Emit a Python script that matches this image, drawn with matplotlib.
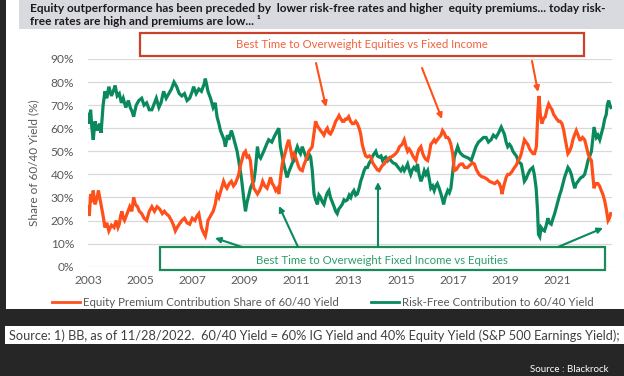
import matplotlib
matplotlib.use("Agg")
import matplotlib.pyplot as plt
from matplotlib.patches import Rectangle

# ---------------- data ----------------
rf_years = [2003.00,2003.05,2003.10,2003.15,2003.20,2003.27,2003.35,2003.45,2003.50,2003.58,2003.65,2003.72,2003.80,2003.90,
            2004.00,2004.04,2004.12,2004.20,2004.28,2004.35,2004.45,2004.55,2004.62,2004.70,2004.75,2004.85,2004.95,
            2005.06,2005.15,2005.25,2005.35,2005.45,2005.55,2005.62,2005.72,2005.80,2005.90,
            2006.00,2006.10,2006.20,2006.30,2006.40,2006.50,2006.60,2006.70,2006.80,2006.90,
            2007.00,2007.05,2007.15,2007.25,2007.35,2007.45,2007.50,2007.55,2007.60,2007.70,2007.80,2007.88,2007.95,
            2008.02,2008.08,2008.15,2008.22,2008.27,2008.35,2008.40,2008.50,2008.58,2008.65,2008.72,2008.78,2008.85,2008.90,2008.97,
            2009.04,2009.10,2009.17,2009.23,2009.30,2009.36,2009.42,2009.50,2009.55,2009.62,2009.74,2009.85,2009.93,
            2010.05,2010.13,2010.22,2010.32,2010.38,2010.45,2010.51,2010.58,2010.64,2010.70,2010.77,2010.84,2010.90,2010.97,
            2011.03,2011.10,2011.15,2011.22,2011.28,2011.35,2011.40,2011.47,2011.54,2011.60,2011.67,2011.73,2011.80,2011.86,2011.92,2011.99,
            2012.05,2012.12,2012.18,2012.24,2012.30,2012.37,2012.44,2012.50,2012.56,2012.62,2012.69,2012.75,2012.82,2012.88,2012.95,
            2013.02,2013.08,2013.14,2013.20,2013.27,2013.33,2013.40,2013.46,2013.52,2013.59,2013.65,2013.72,2013.79,2013.85,2013.92,2013.98,
            2014.04,2014.10,2014.17,2014.24,2014.30,2014.36,2014.42,2014.50,2014.56,2014.62,2014.70,2014.80,2014.90,
            2015.00,2015.07,2015.13,2015.20,2015.26,2015.32,2015.38,2015.44,2015.50,2015.57,2015.64,2015.70,2015.77,2015.84,2015.90,2015.96,
            2016.03,2016.09,2016.15,2016.22,2016.28,2016.34,2016.40,2016.47,2016.54,2016.60,2016.64,2016.70,2016.80,2016.86,2016.92,2016.98,
            2017.05,2017.12,2017.18,2017.24,2017.30,2017.40,2017.50,2017.60,2017.70,2017.79,2017.88,2017.98,
            2018.08,2018.17,2018.27,2018.36,2018.46,2018.55,2018.65,2018.75,2018.85,2018.91,2018.97,
            2019.04,2019.10,2019.17,2019.23,2019.30,2019.36,2019.43,2019.50,2019.56,2019.62,2019.68,2019.74,2019.80,2019.87,2019.96,
            2020.06,2020.12,2020.19,2020.24,2020.28,2020.33,2020.38,2020.44,2020.51,2020.58,2020.64,2020.70,2020.77,2020.84,2020.90,2020.97,
            2021.03,2021.09,2021.15,2021.22,2021.28,2021.35,2021.41,2021.47,2021.54,2021.60,2021.67,2021.73,2021.80,2021.86,2021.92,2021.98,
            2022.05,2022.12,2022.18,2022.25,2022.31,2022.36,2022.41,2022.46,2022.50,2022.56,2022.63,2022.70,2022.76,2022.82,2022.88,2022.92,2022.97,2023.02,2023.06]
rf_share = [66,62,68,60,55,63,59,62,58,70,76,73,78,74,
            77,78.5,74,75,71,73,69,72,69,67,65,70,72,
            73,70,71,68,68,71,73,69,71,76,
            73,75,77,80,78,75,74,75,72,73,
            76,78,75,77,76,79,81.5,79,76,73,69,71,65,
            62,59,57,55,52,57,55,59,56,53,50,46,41,37,30,
            24,28,31,34,36,37,42,52,48,47,50,53,55,
            54,56,58,60,52,48,44.5,41,38.7,41,43,45,46,50,
            52,50,49,52,50,48,46,49,47.5,42,31.5,29,27,31,30,28,
            27,30,32,33,30,28,26,24,23,25,26,27,29,28.5,29,
            31,30,32,33,31,31.5,34,37,39,41.6,43,43,45,46,48,49,
            50,48,47.5,48,46,47,47.5,46,47,46,45,44.5,43,
            41.6,43,41.6,43,44.5,42,40,42,43,42,44.5,40,37,39,41.6,40,
            41.6,38,34,35,33,35,36,34,31.5,29,27,30,33,32,34,40,
            47.5,50,52,50,49,48,47.5,47,46,49,52,54,
            55,56,56,54,55,57,56,58,60.5,59,57.5,
            54,52,53,52,50,49,48,46,45,44.5,41,37,38,40,42,
            43,40,34,25,14,13,17,16,15.5,18,21,19,18.4,21,23,26,
            28.5,31,33,36,38.7,41,43,42,40,37,34,36,37,38,38.7,39,
            40,43,46,48,50,55,60.5,58,56,57,55,58,60.5,64,66,70,72,70,69]

eq_years = [2003.00,2003.05,2003.10,2003.15,2003.20,2003.27,2003.35,2003.40,2003.45,2003.50,2003.58,2003.65,2003.72,2003.80,2003.90,
            2004.00,2004.08,2004.15,2004.20,2004.25,2004.30,2004.35,2004.40,2004.50,2004.60,2004.68,2004.75,2004.82,2004.90,2004.97,
            2005.06,2005.15,2005.25,2005.35,2005.45,2005.55,2005.65,2005.75,2005.85,2005.93,
            2006.00,2006.10,2006.20,2006.28,2006.35,2006.42,2006.50,2006.60,2006.70,2006.80,2006.90,
            2007.00,2007.10,2007.18,2007.25,2007.30,2007.35,2007.42,2007.50,2007.55,2007.60,2007.70,2007.80,2007.88,2007.95,
            2008.02,2008.10,2008.15,2008.20,2008.27,2008.33,2008.42,2008.50,2008.58,2008.65,2008.72,2008.78,2008.85,2008.92,2008.97,
            2009.04,2009.10,2009.17,2009.23,2009.30,2009.36,2009.42,2009.50,2009.58,2009.65,2009.70,2009.78,2009.87,2009.93,
            2010.00,2010.07,2010.13,2010.20,2010.27,2010.32,2010.38,2010.45,2010.51,2010.58,2010.64,2010.70,2010.77,2010.83,2010.90,2010.96,
            2011.03,2011.09,2011.15,2011.22,2011.28,2011.35,2011.41,2011.47,2011.54,2011.60,2011.67,2011.73,2011.80,2011.86,2011.92,2011.99,
            2012.05,2012.12,2012.18,2012.24,2012.30,2012.37,2012.44,2012.50,2012.56,2012.63,2012.70,2012.76,2012.82,2012.88,2012.94,
            2013.00,2013.07,2013.14,2013.20,2013.27,2013.33,2013.40,2013.46,2013.52,2013.59,2013.65,2013.72,2013.79,2013.85,2013.92,2013.98,
            2014.04,2014.10,2014.17,2014.24,2014.30,2014.36,2014.45,2014.54,2014.62,2014.70,2014.80,2014.87,2014.95,
            2015.05,2015.13,2015.20,2015.26,2015.32,2015.38,2015.46,2015.52,2015.58,2015.64,2015.70,2015.77,2015.84,2015.90,2015.96,
            2016.03,2016.09,2016.15,2016.22,2016.28,2016.34,2016.40,2016.47,2016.54,2016.60,2016.66,2016.73,2016.80,2016.86,2016.92,2016.99,
            2017.05,2017.12,2017.18,2017.24,2017.30,2017.37,2017.45,2017.56,2017.65,2017.75,2017.82,2017.90,
            2018.00,2018.10,2018.20,2018.30,2018.40,2018.50,2018.60,2018.70,2018.78,2018.84,2018.88,2018.95,
            2019.04,2019.10,2019.17,2019.25,2019.36,2019.43,2019.50,2019.56,2019.62,2019.68,2019.74,2019.80,2019.87,2019.94,
            2020.00,2020.07,2020.13,2020.20,2020.26,2020.30,2020.35,2020.41,2020.47,2020.54,2020.60,2020.67,2020.74,2020.80,2020.86,2020.92,2020.98,
            2021.05,2021.11,2021.18,2021.25,2021.31,2021.36,2021.41,2021.47,2021.54,2021.60,2021.66,2021.73,2021.80,2021.86,2021.90,2021.97,
            2022.05,2022.12,2022.18,2022.25,2022.31,2022.36,2022.41,2022.48,2022.56,2022.62,2022.69,2022.76,2022.82,2022.88,2022.95,2023.00,2023.05]
eq_share = [26,22,31.5,28,33,27,30,33,30,27,22,17,19,15.5,18,
            17,20,17,18.4,22,24,21,20,23,26,24,30,27,26,24,
            23,21,20,24,26,24,26,25,23,24,
            23,22,20,18,15.5,17,18.4,20,21,19,18.4,
            21,20,22,23,20,17,15,13.3,16,20,22,24,27,31.5,
            30,33,35,37,35,34,36,37,35,36,38,40,44,47,49,
            50,47.5,48,46,38,34,33,31.5,33,35,37,35,34,36,
            38.7,36,35,33,34,31.5,38,44.5,47,50,53,55,51,47.5,49,47.5,
            45,43,42,41.6,44,46,48,50,51,52,58,63,61,60,59,58,
            57,59,60,58,57.5,59,61,63,64,65.5,64,63,63,64,64,
            65,63,62,62,63,62,60,57.5,53,50,48,47.5,48,47.5,45,44,
            43,42,41.6,43,44,44.5,46,47,47.5,48,49,50,52,
            53,55,52,50,51,50,48,47,46,49,51,52,49,47.5,46.5,
            46,49,53,54,55,54,55,56,57,59,58,56,56,55,53,49,
            41.6,42,43,44,44.5,44.5,43,43,44,45,44.5,42,
            40,39,38.7,38,37,36.5,36,37,36,34,31.5,35,
            38.7,40,40,41,43,44,46,47,49,52,55,54,53,51,
            50,49,49,52,68,74,66,62,64,65,68,70.5,69,68,66,65,64,
            63,63,62,59,55,52,49,50,52,55,57,59,57,55,55,56,
            55,52,49,47,46,40,34,36,36,35,33,31,28.5,25,20,21,23]

y_ticks = [0, 10, 20, 30, 40, 50, 60, 70, 80, 90]
x_ticks = [2003, 2005, 2007, 2009, 2011, 2013, 2015, 2017, 2019, 2021]

eq_label = "Equity Premium Contribution Share of 60/40 Yield"
rf_label = "Risk-Free Contribution to 60/40 Yield"
title_lines = ["Equity outperformance has been preceded by  lower risk-free rates and higher  equity premiums... today risk-",
               "free rates are high and premiums are low... \u00b9"]
box_eq_text = "Best Time to Overweight Equities vs Fixed Income"
box_fi_text = "Best Time to Overweight Fixed Income vs Equities"
source_text = "Source: 1) BB, as of 11/28/2022.  60/40 Yield = 60% IG Yield and 40% Equity Yield (S&P 500 Earnings Yield);"
credit_text = "Source : Blackrock"

# ---------------- style ----------------
ORANGE = "#FF4F1A"
GREEN = "#0A8A5C"
GRAY_TXT = "#595959"
W, H = 624, 376
FONT = ["Lato", "DejaVu Sans"]
plt.rcParams["font.family"] = FONT

fig = plt.figure(figsize=(W / 100, H / 100), dpi=100)
fig.patch.set_facecolor("#262626")

def fx(x):
    return x / W

def fy(y):
    return 1 - y / H

def rect(x0, y0, x1, y1, **kw):
    r = Rectangle((fx(x0), fy(y1)), fx(x1) - fx(x0), fy(y0) - fy(y1),
                  transform=fig.transFigure, **kw)
    fig.patches.append(r)
    return r

# white panel, title band, source box
rect(6, 0, 624, 309, facecolor="white", edgecolor="none", zorder=-2)
rect(19, 0, 624, 29, facecolor="#D9D9E0", edgecolor="none", zorder=-1)
rect(5, 326, 624, 344, facecolor="white", edgecolor="none", zorder=-2)

fig.text(fx(30), fy(8), title_lines[0], fontsize=8.6, fontweight="bold", color="#1a1a1a",
         va="center", ha="left")
fig.text(fx(30), fy(21), title_lines[1], fontsize=8.6, fontweight="bold", color="#1a1a1a",
         va="center", ha="left")

# ---------------- axes ----------------
ax = fig.add_axes([fx(88), fy(266.7), fx(612) - fx(88), fy(59) - fy(266.7)])
ax.set_zorder(1)
ax.set_facecolor("none")
ax.plot(eq_years, eq_share, color=ORANGE, lw=2.3, label=eq_label, zorder=3, solid_joinstyle="miter")
ax.plot(rf_years, rf_share, color=GREEN, lw=2.3, label=rf_label, zorder=2, solid_joinstyle="miter")
ax.set_xlim(2003, 2023.1)
ax.set_ylim(0, 90)
ax.set_yticks(y_ticks)
ax.set_yticklabels([f"{v}%" for v in y_ticks])
ax.set_xticks(x_ticks)
ax.set_xticklabels([str(v) for v in x_ticks])
ax.grid(axis="y", color="#D9D9D9", lw=0.9)
ax.set_axisbelow(True)
for s in ax.spines.values():
    s.set_visible(False)
ax.tick_params(axis="both", length=0, labelsize=8.6, labelcolor=GRAY_TXT)
ax.tick_params(axis="x", pad=6)
ax.tick_params(axis="y", pad=10)
ax.set_ylabel("Share of 60/40 Yield (%)", fontsize=8.5, color=GRAY_TXT, labelpad=8)

leg = ax.legend(loc="center left", bbox_to_anchor=(fx(52), fy(303)), bbox_transform=fig.transFigure,
                ncol=2, frameon=False, fontsize=8.3, handlelength=2.43, columnspacing=2.8,
                handletextpad=0.26, borderpad=0, borderaxespad=0, labelcolor=GRAY_TXT)
for h in leg.legend_handles:
    h.set_linewidth(2.0)

# ---------------- annotation boxes & arrows ----------------
rect(140, 33, 584, 56, facecolor="white", edgecolor="#C9432A", lw=1.6, zorder=5)
fig.text(fx(362), fy(45), box_eq_text, fontsize=8.2, color="#F2623F", ha="center", va="center", zorder=6)
rect(160, 247, 605, 270, facecolor="white", edgecolor="#1B8A5A", lw=1.6, zorder=5)
fig.text(fx(382), fy(260), box_fi_text, fontsize=8.2, color="#2A9E6C", ha="center", va="center", zorder=6)

def arrow(x0, y0, x1, y1, color):
    fig.add_artist(matplotlib.patches.FancyArrowPatch(
        (fx(x0), fy(y0)), (fx(x1), fy(y1)), transform=fig.transFigure,
        arrowstyle="-|>", mutation_scale=8, lw=1.5, color=color, zorder=7,
        shrinkA=0, shrinkB=0))

arrow(316, 63, 326, 107, ORANGE)
arrow(422, 68, 442, 119, ORANGE)
arrow(532, 61, 538, 92, ORANGE)
arrow(242, 247, 215, 238, GREEN)
arrow(298, 247, 279, 206, GREEN)
arrow(378, 247, 378, 182, GREEN)
arrow(558, 247, 603, 228, GREEN)

# ---------------- footer ----------------
fig.text(fx(9), fy(336), source_text, fontsize=9.2, color="#404040", ha="left", va="center")
fig.text(fx(609), fy(369), credit_text, fontsize=7.0, color="white", ha="right", va="center")

fig.savefig("out.png", dpi=100, facecolor=fig.get_facecolor())
